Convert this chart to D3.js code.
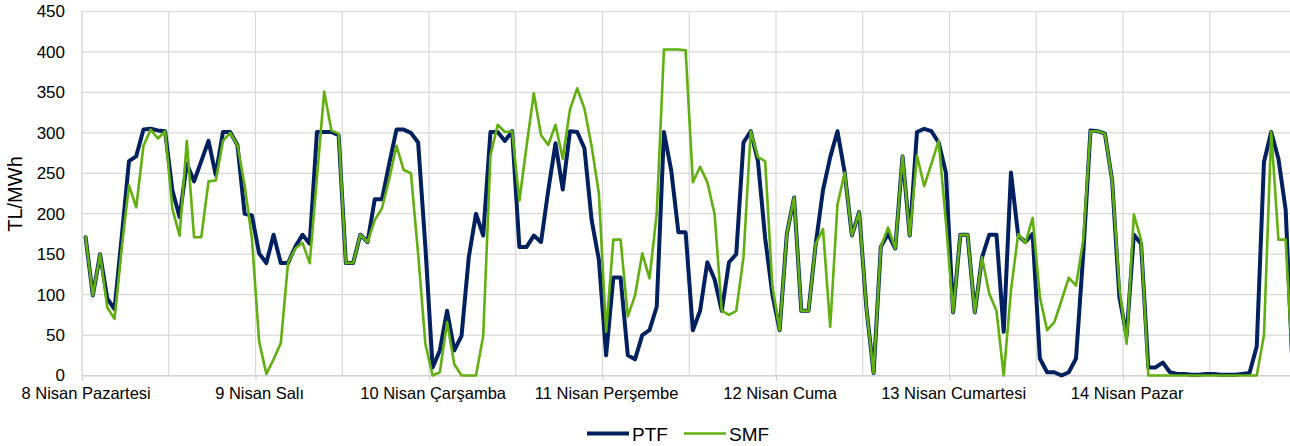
<!DOCTYPE html>
<html>
<head>
<meta charset="utf-8">
<script src="https://cdn.jsdelivr.net/npm/d3@7/dist/d3.min.js"></script>
<style>
  html, body { margin: 0; padding: 0; background: #fff; }
  svg { display: block; font-family: "Liberation Sans", Arial, sans-serif; }
</style>
</head>
<body>
<svg id="chart" width="1290" height="446"></svg>
<script>
// saatlik fiyatlar, 8-14 Nisan (24 saat x 7 gün)
var days = ["8 Nisan Pazartesi", "9 Nisan Salı", "10 Nisan Çarşamba", "11 Nisan Perşembe",
            "12 Nisan Cuma", "13 Nisan Cumartesi", "14 Nisan Pazar"];

var ptf = [
  171, 99, 150, 95, 82, 172, 265, 271, 304, 305, 303, 302, 229, 196, 262, 240, 265, 290, 248, 301, 301, 285, 200, 198,
  151, 139, 174, 139, 139, 159, 174, 163, 301, 301, 301, 297, 139, 139, 174, 165, 218, 218, 262, 304, 304, 300, 288, 159,
  10, 31, 80, 31, 49, 146, 200, 173, 301, 301, 290, 302, 159, 159, 173, 165, 229, 287, 230, 302, 301, 281, 192, 143,
  25, 121, 121, 25, 20, 50, 56, 85, 301, 254, 177, 177, 56, 80, 140, 119, 80, 140, 150, 288, 302, 265, 170, 100,
  56, 175, 220, 80, 80, 163, 229, 270, 302, 251, 173, 202, 84, 3, 159, 175, 157, 271, 173, 301, 305, 302, 288, 251,
  78, 174, 174, 78, 146, 174, 174, 54, 251, 173, 165, 175, 21, 4, 4, 0, 4, 21, 150, 303, 302, 299, 241, 97,
  49, 174, 163, 10, 10, 16, 4, 2, 2, 1, 1, 2, 2, 1, 1, 1, 2, 3, 36, 264, 301, 268, 205, 0
];

var smf = [
  171, 99, 150, 84, 70, 158, 235, 208, 284, 304, 293, 302, 206, 173, 290, 171, 171, 240, 241, 290, 300, 285, 235, 170,
  42, 2, 20, 40, 139, 157, 164, 139, 245, 351, 303, 299, 139, 139, 174, 165, 192, 207, 243, 284, 254, 250, 150, 39,
  0, 4, 66, 14, 0, 0, 0, 49, 272, 310, 301, 302, 216, 284, 349, 297, 285, 310, 268, 329, 355, 330, 283, 225,
  54, 168, 168, 73, 99, 151, 120, 200, 403, 403, 403, 402, 239, 258, 239, 200, 80, 75, 80, 146, 302, 270, 265, 110,
  56, 175, 220, 80, 80, 163, 181, 60, 211, 251, 173, 202, 84, 3, 159, 183, 157, 272, 173, 272, 234, 262, 290, 190,
  78, 174, 174, 78, 146, 101, 80, 0, 105, 175, 164, 195, 97, 56, 66, 93, 121, 111, 167, 302, 302, 299, 241, 109,
  39, 199, 168, 0, 0, 0, 0, 0, 0, 0, 0, 0, 0, 0, 0, 0, 0, 0, 0, 50, 301, 168, 168, 0
];

var yTicks = [0, 50, 100, 150, 200, 250, 300, 350, 400, 450];

var series = [
  {name: "PTF", values: ptf, color: "#002060", width: 4},
  {name: "SMF", values: smf, color: "#62b010", width: 2.6}
];

(function () {
  var svg = d3.select("#chart");
  var plotLeft = 82, plotRight = 1296.5, plotTop = 11.5, plotBottom = 375.5;

  var x = d3.scaleLinear().domain([-0.5, ptf.length - 0.5]).range([plotLeft, plotRight]);
  var y = d3.scaleLinear().domain([0, 450]).range([plotBottom, plotTop]);

  // yatay ızgara
  svg.append("g").selectAll("line").data(yTicks).join("line")
    .attr("x1", plotLeft).attr("x2", plotRight)
    .attr("y1", function (d) { return y(d); }).attr("y2", function (d) { return y(d); })
    .attr("stroke", "#d9d9d9").attr("stroke-width", 1.2);

  // dikey ızgara, 12 saatte bir
  var vGrid = d3.range(12, ptf.length + 1, 12).map(function (i) { return i - 0.5; });
  svg.append("g").selectAll("line").data(vGrid).join("line")
    .attr("x1", function (d) { return x(d); }).attr("x2", function (d) { return x(d); })
    .attr("y1", plotTop).attr("y2", plotBottom)
    .attr("stroke", "#d9d9d9").attr("stroke-width", 1.2);

  // eksen çizgileri
  svg.append("line").attr("x1", plotLeft).attr("x2", plotLeft).attr("y1", plotTop).attr("y2", plotBottom)
    .attr("stroke", "#d0d0d0").attr("stroke-width", 1.2);

  var xTickMarks = d3.range(0, ptf.length + 1, 24).map(function (i) { return i - 0.5; });
  svg.append("g").attr("transform", "translate(0," + plotBottom + ")")
    .call(d3.axisBottom(x).tickValues(xTickMarks).tickSize(5).tickFormat(""))
    .call(function (g) {
      g.select(".domain").attr("stroke", "#d0d0d0").attr("stroke-width", 1.2);
      g.selectAll(".tick line").attr("stroke", "#d0d0d0").attr("stroke-width", 1.2);
    });

  // gün etiketleri
  svg.append("g").attr("transform", "translate(0," + plotBottom + ")")
    .call(d3.axisBottom(x).tickValues(d3.range(0, ptf.length, 24)).tickSize(0).tickPadding(12)
      .tickFormat(function (d) { return days[d / 24]; }))
    .call(function (g) {
      g.select(".domain").remove();
      g.selectAll("text").attr("font-size", 16.5).attr("fill", "#000").attr("font-family", null);
    });

  // y ekseni
  svg.append("g").attr("transform", "translate(" + plotLeft + ",0)")
    .call(d3.axisLeft(y).tickValues(yTicks).tickSize(0).tickPadding(17))
    .call(function (g) {
      g.select(".domain").remove();
      g.selectAll("text").attr("font-size", 17).attr("fill", "#000").attr("font-family", null);
    });

  svg.append("text")
    .attr("transform", "translate(22,194) rotate(-90)")
    .attr("text-anchor", "middle")
    .attr("font-size", 20)
    .text("TL/MWh");

  // seriler
  var line = d3.line()
    .x(function (d, i) { return x(i); })
    .y(function (d) { return y(d); });

  svg.append("g").selectAll("path").data(series).join("path")
    .attr("d", function (s) { return line(s.values); })
    .attr("fill", "none")
    .attr("stroke", function (s) { return s.color; })
    .attr("stroke-width", function (s) { return s.width; })
    .attr("stroke-linejoin", "round")
    .attr("stroke-linecap", "round");

  // lejant
  var legend = svg.append("g").attr("transform", "translate(587,433.5)");
  var item = legend.selectAll("g").data(series).join("g")
    .attr("transform", function (s, i) { return "translate(" + (i * 97) + ",0)"; });
  item.append("line")
    .attr("x1", 0).attr("x2", 42)
    .attr("stroke", function (s) { return s.color; })
    .attr("stroke-width", function (s) { return s.width; });
  item.append("text")
    .attr("x", 45).attr("y", 7)
    .attr("font-size", 19)
    .text(function (s) { return s.name; });
})();
</script>
</body>
</html>
